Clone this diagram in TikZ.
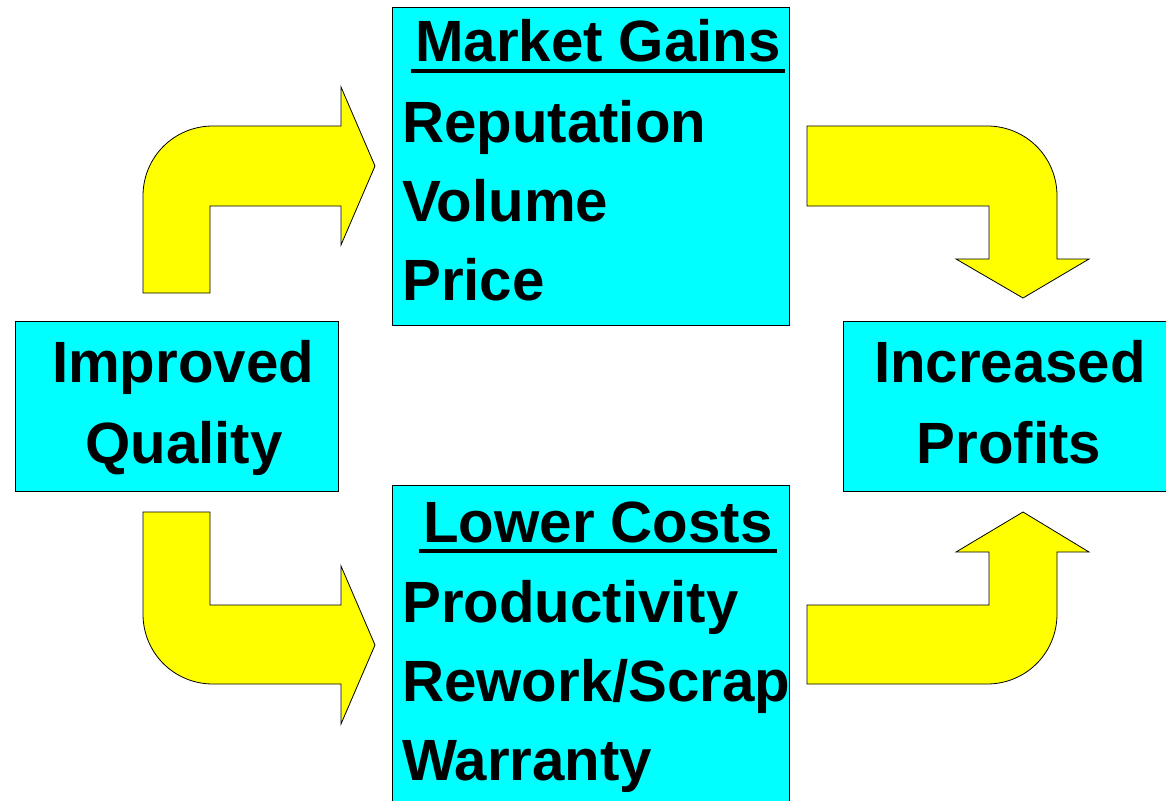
\documentclass[tikz,border=0pt]{standalone}
\usepackage{fontspec}
\setmainfont{Liberation Sans}
\usetikzlibrary{positioning}
\definecolor{boxCyan}{RGB}{0,255,255}
\definecolor{bendYellow}{RGB}{255,255,0}

\begin{document}
\begin{tikzpicture}[x=1pt,y=-1pt,
      box/.style={draw=black,line width=0.8pt,fill=boxCyan,inner sep=0pt,anchor=north west},
      bentarrow/.style={draw=black,line width=0.8pt,fill=bendYellow,line join=miter},
      item/.style={anchor=base west,inner sep=0pt,font=\bfseries\fontsize{58.2}{70}\selectfont},
      head/.style={item,anchor=base,inner xsep=4pt},
      uline/.style={line width=4pt}]
    \clip (0,0) rectangle (1166,800);

    % the four boxes
    \node[box,minimum width=323,minimum height=170] (quality) at (15,321) {};
    \node[box,minimum width=397,minimum height=318] (gains) at (392,7) {};
    \node[box,minimum width=397,minimum height=330] (costs) at (392,485) {};
    \node[box,minimum width=330,minimum height=170] (profits) at (843,321) {};

    % side labels
    \node[item,anchor=base] (quality1) at (183,382) {Improved};
    \node[item,anchor=base] (quality2) at (184,463) {Quality};
    \node[item,anchor=base] (profits1) at (1010,382) {Increased};
    \node[item,anchor=base] (profits2) at (1009,463) {Profits};

    % headings, underlined by hand
    \node[head] (ghead) at (598,62) {Market Gains};
    \node[head] (chead) at (598,542) {Lower Costs};
    \draw[uline] ([yshift=-9pt]ghead.base west) -- ([yshift=-9pt]ghead.base east);
    \draw[uline] ([yshift=-9pt]chead.base west) -- ([yshift=-9pt]chead.base east);

    \foreach \txt/\y [count=\i] in {Reputation/142,Volume/221,Price/300}
      \node[item] (gain\i) at (402,\y) {\txt};
    \foreach \txt/\y [count=\i] in {Productivity/622,{Rework/Scrap}/701,Warranty/780}
      \node[item] (cost\i) at (402,\y) {\txt};

    % bent arrows
    \draw[bentarrow] (143,293) -- (143,196) .. controls (143,157) and (174,126) .. (213,126)
      -- (341,126) -- (341,87) -- (375,166) -- (341,245) -- (341,206) -- (210,206) -- (210,293) -- cycle;
    \draw[bentarrow] (807,126) -- (987,126) .. controls (1026,126) and (1057,157) .. (1057,196)
      -- (1057,259) -- (1089,259) -- (1023,298) -- (956,259) -- (989,259) -- (989,206) -- (807,206) -- cycle;
    \draw[bentarrow] (143,512) -- (210,512) -- (210,605) -- (341,605) -- (341,566) -- (375,645)
      -- (341,724) -- (341,684) -- (213,684) .. controls (174,684) and (143,653) .. (143,614) -- cycle;
    \draw[bentarrow] (807,684) -- (987,684) .. controls (1026,684) and (1057,653) .. (1057,614)
      -- (1057,552) -- (1089,552) -- (1023,512) -- (956,552) -- (989,552) -- (989,605) -- (807,605) -- cycle;
  \end{tikzpicture}
\end{document}
